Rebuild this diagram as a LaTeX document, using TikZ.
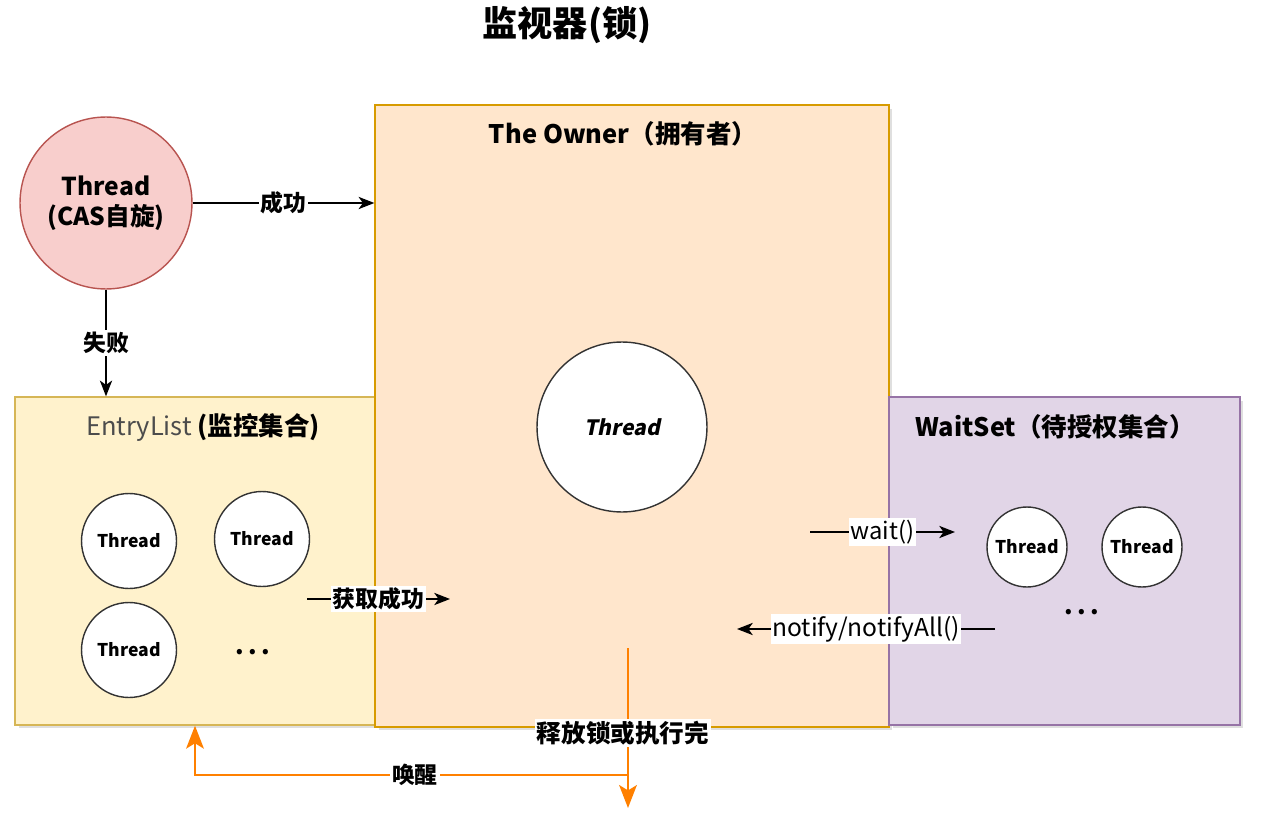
\documentclass[tikz,border=0pt]{standalone}
\usepackage{fontspec}
\setmainfont{Noto Sans CJK SC}
\newfontfamily\slantfont{Noto Sans CJK SC}[FakeSlant=0.2]
\usepackage{xcolor}
\definecolor{casfill}{HTML}{F8CECC}
\definecolor{casline}{HTML}{B85450}
\definecolor{ownerfill}{HTML}{FFE6CC}
\definecolor{ownerline}{HTML}{D79B00}
\definecolor{entryfill}{HTML}{FFF2CC}
\definecolor{entryline}{HTML}{D6B656}
\definecolor{waitfill}{HTML}{E1D5E7}
\definecolor{waitline}{HTML}{9673A6}
\definecolor{myorange}{HTML}{FF8000}
\usetikzlibrary{shapes,arrows.meta,positioning,shadows}

\begin{document}
\begin{tikzpicture}[
    x=0.02cm, y=-0.02cm,
    >={Stealth[length=9pt, width=7pt, inset=2.5pt]},
    box/.style={rectangle, draw, line width=0.8pt, inner sep=0pt, drop shadow={shadow xshift=2pt, shadow yshift=-2pt, opacity=0.25}},
    thr/.style={circle, draw=black!80, fill=white, line width=0.8pt, inner sep=0pt, font=\fontsize{10}{12}\selectfont\bfseries},
    title/.style={font=\fontsize{14.5}{17}\selectfont\bfseries},
    lbl/.style={fill=white, inner sep=1pt, text=black, font=\fontsize{13}{15}\selectfont\bfseries},
    dots/.style={font=\fontsize{14}{16}\selectfont\bfseries},
    conn/.style={->, line width=0.8pt, black},
    wake/.style={line width=1.7pt, myorange, -{Stealth[length=13pt, width=10pt, inset=3pt]}},
]
\useasboundingbox (0,0) rectangle (1272,821);

% 标题
\node[font=\fontsize{20}{24}\selectfont\bfseries] (head) at (567,25) {监视器(锁)};

% 三个区域
\node[box, fill=entryfill, draw=entryline, minimum width=7.2cm, minimum height=6.56cm] (entry) at (195,561) {};
\node[box, fill=ownerfill, draw=ownerline, minimum width=10.28cm, minimum height=12.44cm] (owner) at (632,416) {};
\node[box, fill=waitfill, draw=waitline, minimum width=7.02cm, minimum height=6.56cm] (waitset) at (1064.5,561) {};

\node[title] (ownerT) at (623,134) {The Owner（拥有者）};
\node[title] (entryT) at (203,428) {\textcolor{black!70}{\mdseries EntryList} (监控集合)};
\node[title] (waitT) at (1055,427) {WaitSet（待授权集合）};

% CAS 线程
\node[circle, draw=casline, fill=casfill, line width=0.8pt, minimum size=3.44cm, align=center,
      font=\fontsize{14}{17}\selectfont\bfseries] (cas) at (106,203) {Thread\\(CAS自旋)};

% 持有锁的线程
\node[circle, draw=black!80, fill=white, line width=0.8pt, minimum size=3.4cm,
      font=\fontsize{12}{14}\selectfont\slantfont\bfseries] (ownThr) at (622,427) {Thread};

% EntryList 中的线程
\node[thr, minimum size=1.9cm] (e1) at (129,541) {Thread};
\node[thr, minimum size=1.9cm] (e2) at (262,539) {Thread};
\node[thr, minimum size=1.9cm] (e3) at (129,650) {Thread};
\node[dots] (eDots) at (253,652) {.\,.\,.};

% WaitSet 中的线程
\node[thr, minimum size=1.6cm] (w1) at (1027,547) {Thread};
\node[thr, minimum size=1.6cm] (w2) at (1142,547) {Thread};
\node[dots] (wDots) at (1082,612) {.\,.\,.};

% 箭头
\draw[conn] (cas.east) -- node[lbl] {成功} (cas.east -| owner.west);
\draw[conn] (cas.south) -- node[lbl] {失败} (cas |- entry.north);

\coordinate (getA) at (307,599);
\coordinate (getB) at (450,599);
\draw[conn] (getA) -- node[lbl] {获取成功} (getB);

\coordinate (waitA) at (810,532);
\coordinate (waitB) at (955,532);
\draw[conn] (waitA) -- node[lbl, font=\fontsize{13.5}{15}\selectfont] {wait()} (waitB);

\coordinate (notA) at (995,629);
\coordinate (notB) at (737,629);
\draw[conn] (notA) -- node[lbl, font=\fontsize{14}{15}\selectfont] {notify/notifyAll()} (notB);

% 释放锁与唤醒
\coordinate (rel) at (628,648);
\coordinate (relEnd) at (628,808);
\coordinate (wakeA) at (628,775);
\draw[wake] (rel) -- (relEnd);
\node[lbl, font=\fontsize{14}{16}\selectfont\bfseries] (relT) at (623,733) {释放锁或执行完};
\draw[wake] (wakeA) -| node[lbl, pos=0.246] {唤醒} (entry.south);

\end{tikzpicture}
\end{document}
